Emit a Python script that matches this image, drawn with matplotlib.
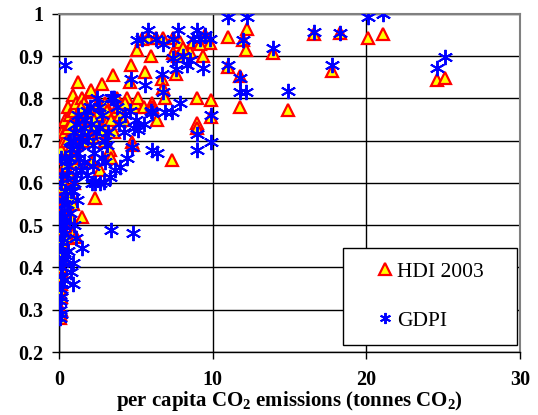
import numpy as np
from matplotlib import pyplot as plt

plt.rcParams['mathtext.fontset'] = 'custom'
plt.rcParams['mathtext.rm'] = 'Liberation Serif:bold'
plt.rcParams['mathtext.it'] = 'Liberation Serif:bold'
plt.rcParams['mathtext.bf'] = 'Liberation Serif:bold'

# per capita CO2 (tonnes), HDI 2003 and GDP index for each country
co2 = [0.05, 0.05, 0.1, 0.1, 0.05, 0.15, 0.1, 0.2, 0.1, 0.3,
       0.2, 0.1, 0.3, 0.2, 0.1, 0.4, 0.2, 0.1, 0.3, 0.2,
       0.4, 0.1, 0.3, 0.2, 0.5, 0.1, 0.3, 0.2, 0.4, 0.2,
       0.1, 0.3, 0.2, 0.4, 0.6, 0.1, 0.4, 0.9, 0.8, 0.9,
       0.6, 1.1, 1.0, 0.7, 1.2, 0.8, 1.0, 1.5,
       0.5, 0.6, 0.7, 0.8, 0.9, 1.0, 1.1, 1.24, 1.3, 1.4,
       1.5, 1.6, 1.7, 1.8, 2.0, 2.1, 2.15, 2.2, 2.35, 2.4,
       2.5, 2.7, 2.8, 0.7, 1.2,
       1.3, 1.6, 1.9, 2.3, 2.6, 1.1, 1.8, 2.2, 0.9, 1.4,
       2.9, 3.0, 3.2, 3.3, 3.4, 3.5, 3.65, 3.8, 4.0, 4.2,
       4.45, 4.6, 4.7, 4.75, 4.8, 4.9, 5.0, 3.0, 2.6, 3.6,
       3.1, 3.9, 4.3, 2.8, 3.4,
       5.1, 5.15, 5.5, 5.6, 5.8, 6.0, 6.05, 6.05, 6.3, 6.4,
       6.7, 6.8, 6.8, 6.9, 7.35, 7.4, 7.4, 7.6, 7.75, 7.9,
       8.3, 8.5, 8.7, 9.0, 9.0, 9.0, 9.4, 9.5, 9.8, 9.9,
       9.9, 9.2, 5.4, 8.1,
       11.0, 11.0, 11.8, 12.25, 12.0, 11.8, 12.2, 13.9, 14.9, 16.6,
       18.3, 17.8, 20.1, 21.1, 24.6, 25.1]

hdi = [0.28, 0.29, 0.30, 0.33, 0.35, 0.36, 0.38, 0.39, 0.40, 0.42,
       0.43, 0.44, 0.45, 0.46, 0.47, 0.48, 0.49, 0.50, 0.51, 0.52,
       0.53, 0.54, 0.55, 0.57, 0.58, 0.59, 0.60, 0.62, 0.64, 0.66,
       0.68, 0.70, 0.72, 0.75, 0.78, 0.50, 0.72, 0.48, 0.52, 0.55,
       0.47, 0.472, 0.60, 0.62, 0.65, 0.57, 0.67, 0.52,
       0.70, 0.73, 0.76, 0.74, 0.808, 0.77, 0.79, 0.839, 0.76, 0.72,
       0.80, 0.75, 0.78, 0.70, 0.815, 0.82, 0.65, 0.73, 0.564, 0.78,
       0.76, 0.63, 0.834, 0.68, 0.70,
       0.74, 0.79, 0.77, 0.75, 0.79, 0.69, 0.73, 0.71, 0.66, 0.78,
       0.74, 0.79, 0.75, 0.678, 0.66, 0.855, 0.77, 0.80, 0.76, 0.75,
       0.80, 0.84, 0.879, 0.697, 0.69, 0.78, 0.79, 0.70, 0.72, 0.72,
       0.77, 0.78, 0.79, 0.72, 0.75,
       0.915, 0.80, 0.78, 0.862, 0.943, 0.90, 0.79, 0.78, 0.943, 0.75,
       0.845, 0.943, 0.826, 0.80, 0.654, 0.907, 0.943, 0.857, 0.90, 0.934,
       0.91, 0.91, 0.934, 0.80, 0.742, 0.73, 0.90, 0.95, 0.931, 0.797,
       0.756, 0.93, 0.94, 0.92,
       0.946, 0.875, 0.853, 0.964, 0.938, 0.78, 0.915, 0.907, 0.773, 0.952,
       0.955, 0.865, 0.943, 0.952, 0.844, 0.849]

gdpi = [0.28, 0.30, 0.33, 0.29, 0.32, 0.35, 0.36, 0.40, 0.33, 0.37,
        0.41, 0.38, 0.42, 0.44, 0.40, 0.43, 0.46, 0.45, 0.48, 0.47,
        0.50, 0.49, 0.52, 0.50, 0.55, 0.53, 0.51, 0.56, 0.58, 0.52,
        0.60, 0.55, 0.62, 0.66, 0.64, 0.66, 0.88, 0.36, 0.39, 0.41,
        0.44, 0.47, 0.50, 0.53, 0.56, 0.58, 0.60, 0.446,
        0.62, 0.64, 0.66, 0.68, 0.70, 0.72, 0.74, 0.76, 0.66, 0.63,
        0.70, 0.73, 0.75, 0.62, 0.78, 0.74, 0.60, 0.69, 0.60, 0.72,
        0.80, 0.60, 0.76, 0.70, 0.67,
        0.69, 0.65, 0.71, 0.67, 0.73, 0.62, 0.77, 0.64, 0.58, 0.71,
        0.602, 0.70, 0.72, 0.614, 0.489, 0.80, 0.63, 0.78, 0.638, 0.72,
        0.659, 0.77, 0.845, 0.685, 0.481, 0.73, 0.75, 0.65, 0.78, 0.80,
        0.69, 0.74, 0.76, 0.66, 0.80,
        0.938, 0.725, 0.74, 0.832, 0.962, 0.77, 0.678, 0.765, 0.94, 0.671,
        0.857, 0.93, 0.815, 0.768, 0.768, 0.896, 0.94, 0.87, 0.962, 0.79,
        0.879, 0.89, 0.94, 0.962, 0.715, 0.678, 0.872, 0.95, 0.94, 0.697,
        0.76, 0.94, 0.94, 0.90,
        0.993, 0.879, 0.848, 0.993, 0.938, 0.815, 0.815, 0.92, 0.818, 0.958,
        0.955, 0.879, 0.993, 1.0, 0.872, 0.898]

serif = ['Liberation Serif', 'DejaVu Serif']

fig = plt.figure(figsize=(5.38, 4.15), dpi=100)
ax = fig.add_axes([0.1097, 0.1518, 0.8566, 0.8145])

ax.plot(co2, hdi, linestyle='none', marker='^', ms=9, mfc='#ffff00',
        mec='#ff0000', mew=1.6, label='HDI 2003', zorder=3)
ax.plot(co2, gdpi, linestyle='none', marker=(6, 2, 0), ms=11, mec='#0000ff',
        mew=1.4, label='GDPI', zorder=4)

ax.set_xlim(0, 30)
ax.set_ylim(0.2, 1.0)
ax.set_xticks([0, 10, 20, 30])
ax.set_yticks(np.arange(0.2, 1.01, 0.1))
ax.set_yticklabels(['0.2', '0.3', '0.4', '0.5', '0.6', '0.7', '0.8', '0.9', '1'])
ax.grid(True, color='black', linewidth=1.0, zorder=0)
ax.set_axisbelow(True)

for side in ['top', 'right']:
    ax.spines[side].set_color('#808080')
    ax.spines[side].set_linewidth(1.5)
for side in ['left', 'bottom']:
    ax.spines[side].set_color('black')
    ax.spines[side].set_linewidth(1.0)

ax.tick_params(direction='out', length=5, width=1)
ax.tick_params(axis='x', pad=8)
ax.tick_params(axis='y', pad=6)
for lab in ax.get_xticklabels() + ax.get_yticklabels():
    lab.set_family(serif)
    lab.set_fontweight('bold')
    lab.set_fontsize(14.5)

ax.set_xlabel('per capita CO$_2$ emissions (tonnes CO$_2$)', family=serif,
              fontweight='bold', fontsize=15, labelpad=-1)

leg = ax.legend(loc='lower left', bbox_to_anchor=(0.616, 0.021, 0.377, 0.284),
                mode='expand', borderaxespad=0, borderpad=0.65, labelspacing=1.35,
                handlelength=2.6, handletextpad=-0.75, fancybox=False,
                framealpha=1, edgecolor='black', prop={'family': serif, 'size': 15.5})
leg.get_frame().set_linewidth(1.0)
for h in leg.legend_handles:
    h.set_markersize(8)

plt.savefig('out.png', dpi=100)
